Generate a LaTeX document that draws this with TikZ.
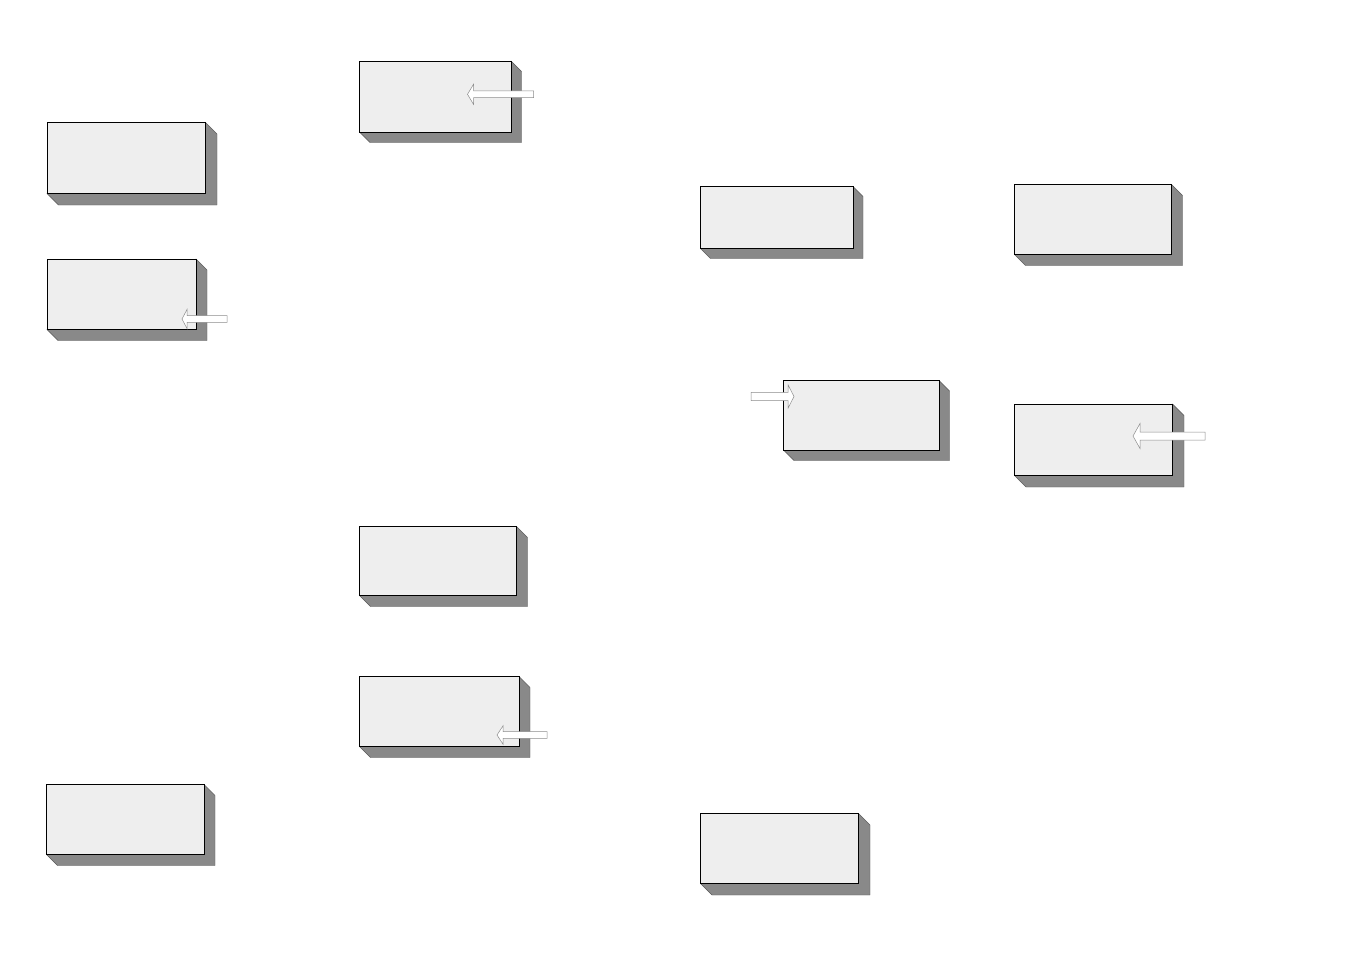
\documentclass[tikz,border=0pt]{standalone}
\usetikzlibrary{calc}
\definecolor{facefill}{HTML}{EEEEEE}
\definecolor{sidefill}{HTML}{898989}
\definecolor{sideline}{HTML}{5A5A5A}
\definecolor{arrowline}{HTML}{8C8C8C}
\tikzset{
  face/.style={draw=black, line width=0.9pt, fill=facefill, rectangle, inner sep=0pt, outer sep=0pt, anchor=north west},
  side/.style={fill=sidefill, draw=sideline, line width=0.4pt, line join=miter},
  blockarrow/.style={fill=white, draw=arrowline, line width=0.5pt, line join=miter}
}
% \cubebox{name}{x1}{y1}{x2}{y2}{depth}
\newcommand{\cubebox}[6]{%
  \path[side] (#4,#3) -- ($(#4,#3)+(#6,#6)$) -- ($(#4,#5)+(#6,#6)$) -- ($(#2,#5)+(#6,#6)$) -- (#2,#5) -- cycle;
  \pgfmathsetmacro{\bw}{#4-#2}\pgfmathsetmacro{\bh}{#5-#3}%
  \node[face, minimum width=\bw pt, minimum height=\bh pt] (#1) at (#2,#3) {};
}
% \larrow{tip}{headbase}{tail}{y}{shafthalf}{headhalf}  (points left)
\newcommand{\blkarrow}[6]{%
  \path[blockarrow] (#1,#4) -- (#2,#4-#6) -- (#2,#4-#5) -- (#3,#4-#5) -- (#3,#4+#5) -- (#2,#4+#5) -- (#2,#4+#6) -- cycle;
}
\begin{document}
\begin{tikzpicture}[x=1pt,y=-1pt]
\useasboundingbox (0,0) rectangle (1350,954);
\cubebox{b1}{47}{122.5}{205.5}{193.5}{11.5}
\cubebox{b2}{47}{259}{196}{329.5}{11}
\cubebox{b3}{359.5}{61}{511}{132}{10.5}
\cubebox{b4}{359.5}{526.5}{516.5}{595.5}{11}
\cubebox{b5}{359.5}{676.5}{519}{746.5}{11}
\cubebox{b6}{46.5}{784.5}{204}{854.5}{11}
\cubebox{b7}{700.5}{186.5}{853}{248.5}{10}
\cubebox{b8}{1014.5}{184.5}{1171.5}{254.5}{11}
\cubebox{b9}{783.5}{380.5}{939}{450}{10.5}
\cubebox{b10}{1014.5}{404}{1172.5}{475.5}{11.5}
\cubebox{b11}{700.5}{813.5}{858.5}{883.5}{11.5}
% block arrows
\blkarrow{182}{187}{227}{319}{3.3}{9.5}
\blkarrow{467.5}{473.5}{533.5}{94.3}{3.4}{10}
\blkarrow{497}{503}{547}{735}{3.3}{9.2}
\blkarrow{794}{788}{751}{396.5}{4.2}{11.7}
\blkarrow{1133}{1140}{1205}{436}{4}{12.5}
\end{tikzpicture}
\end{document}
